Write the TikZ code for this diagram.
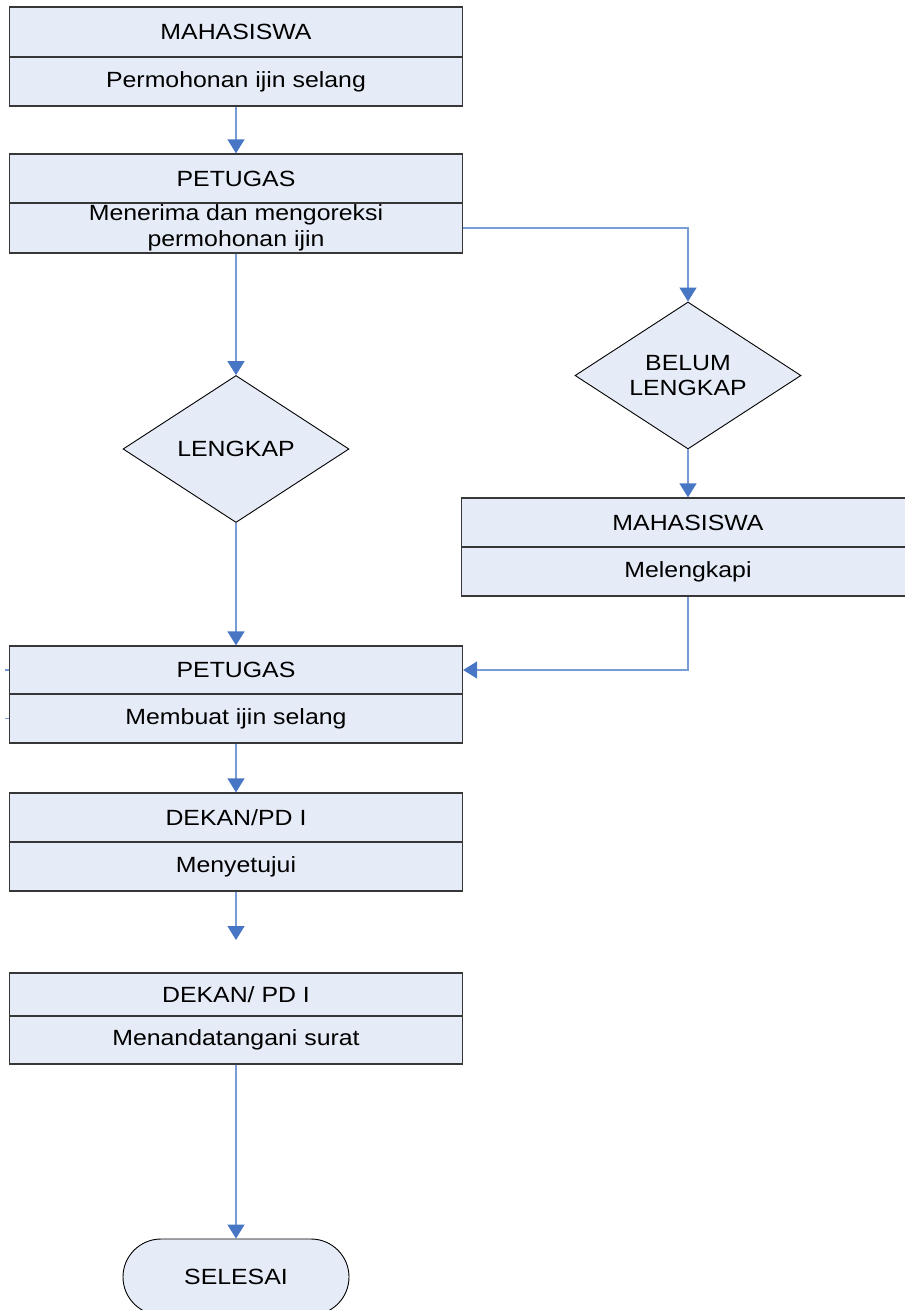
\documentclass[tikz,border=0pt]{standalone}
\usepackage{fontspec}
\setmainfont{Liberation Sans}[FakeStretch=1.13]
\usetikzlibrary{arrows.meta,shapes.geometric,shapes.misc}
\definecolor{boxfill}{RGB}{230,236,247}
\definecolor{boxline}{RGB}{55,55,55}
\definecolor{connblue}{RGB}{120,156,214}
\definecolor{tipblue}{RGB}{70,118,196}
\tikzset{
  part/.style={draw=boxline, fill=boxfill, line width=1.3pt, minimum width=453pt, inner sep=0pt, align=center,
    font=\fontsize{22}{26}\selectfont},
  decision/.style={diamond, draw=black, fill=boxfill, line width=0.9pt, inner sep=0pt, aspect=1.54,
    minimum width=226pt, minimum height=147pt, align=center, font=\fontsize{22}{25}\selectfont},
  terminal/.style={rounded rectangle, draw=black, fill=boxfill, line width=0.9pt, minimum width=226pt,
    minimum height=76pt, inner sep=0pt, font=\fontsize{22}{26}\selectfont},
  conn/.style={draw=connblue, line width=1.4pt},
  arr/.style={conn, -{Triangle[length=14pt,width=17pt,color=tipblue,fill=tipblue]}}
}
\begin{document}
\begin{tikzpicture}[x=1pt,y=-1pt]
\useasboundingbox (0,0) rectangle (905,1310);
\clip (0,0) rectangle (905,1310);
% box 1
\node[part, minimum height=50pt] (b1h) at (236,32) {MAHASISWA};
\node[part, minimum height=49pt] (b1b) at (236,81.5) {Permohonan ijin selang};
% box 2
\node[part, minimum height=49pt] (b2h) at (236,178.5) {PETUGAS};
\node[part, minimum height=50pt] (b2b) at (236,228) {Menerima dan mengoreksi\\permohonan ijin};
% decisions
\node[decision] (dl) at (236,449) {LENGKAP};
\node[decision] (dbl) at (688,375.5) {BELUM\\LENGKAP};
% box 5
\node[part, minimum height=49pt] (b5h) at (688,522.5) {MAHASISWA};
\node[part, minimum height=49pt] (b5b) at (688,571.5) {Melengkapi};
% box 6
\node[part, minimum height=48pt] (b6h) at (236,670) {PETUGAS};
\node[part, minimum height=49pt] (b6b) at (236,718.5) {Membuat ijin selang};
% box 7
\node[part, minimum height=49pt] (b7h) at (236,817.5) {DEKAN/PD I};
\node[part, minimum height=49pt] (b7b) at (236,866.5) {Menyetujui};
% box 8
\node[part, minimum height=43pt] (b8h) at (236,994.5) {DEKAN/ PD I};
\node[part, minimum height=48pt] (b8b) at (236,1040) {Menandatangani surat};
% terminal
\node[terminal] (end) at (236,1277) {SELESAI};
\coordinate (free) at (236,940);
\coordinate (stubA) at (5,670);
\coordinate (stubB) at (5,718.5);
% connectors
\draw[arr] (b1b.south) -- (b2h.north);
\draw[arr] (b2b.south) -- (dl.north);
\draw[arr] (b2b.east) -| (dbl.north);
\draw[arr] (dbl.south) -- (b5h.north);
\draw[arr] (dl.south) -- (b6h.north);
\draw[arr] (b5b.south) |- (b6h.east);
\draw[arr] (b6b.south) -- (b7h.north);
\draw[arr] (b7b.south) -- (free);
\draw[arr] (b8b.south) -- (end.north);
\draw[conn] (stubA) -- (b6h.west);
\draw[conn] (stubB) -- (b6b.west);
\end{tikzpicture}
\end{document}
